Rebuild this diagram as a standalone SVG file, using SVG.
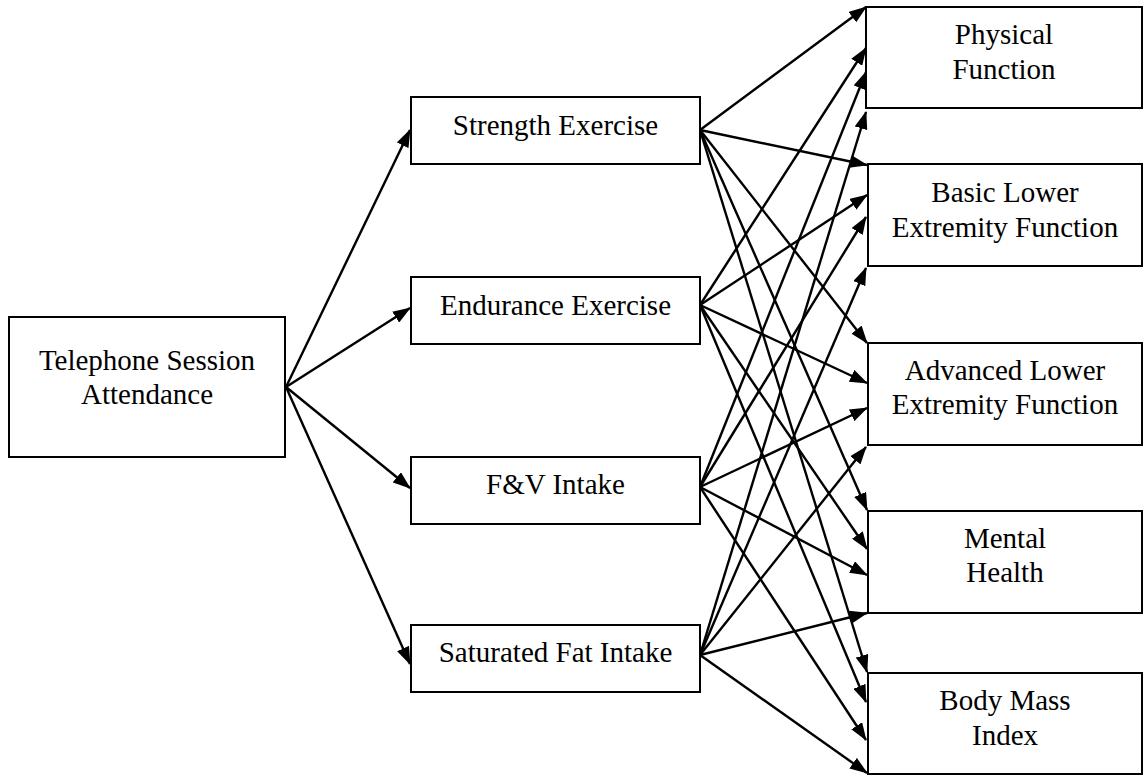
<svg xmlns="http://www.w3.org/2000/svg" width="1143" height="776" viewBox="0 0 1143 776">
  <style>
    .box { fill: #fff; stroke: #000; stroke-width: 2; }
    .lbl { font-family: "Liberation Serif", "Times New Roman", serif; font-size: 29px; fill: #000; text-anchor: middle; }
    .edge { stroke: #000; stroke-width: 2.4; fill: none; marker-end: url(#head); }
  </style>
  <defs>
    <marker id="head" markerUnits="userSpaceOnUse" markerWidth="18" markerHeight="13" refX="17" refY="6.5" orient="auto">
      <path d="M0,0 L18,6.5 L0,13 z" fill="#000"/>
    </marker>
  </defs>

  <!-- connectors -->
  <g id="connectors">
    <!-- attendance to behaviours -->
    <line class="edge" x1="286" y1="387" x2="410" y2="130"/>
    <line class="edge" x1="286" y1="387" x2="410" y2="308"/>
    <line class="edge" x1="286" y1="387" x2="410" y2="488"/>
    <line class="edge" x1="286" y1="387" x2="410" y2="664"/>
    <!-- strength exercise -->
    <line class="edge" x1="700" y1="130" x2="866" y2="7"/>
    <line class="edge" x1="700" y1="130" x2="867" y2="165"/>
    <line class="edge" x1="700" y1="130" x2="867" y2="343"/>
    <line class="edge" x1="700" y1="130" x2="867" y2="510"/>
    <line class="edge" x1="700" y1="130" x2="867" y2="672"/>
    <!-- endurance exercise -->
    <line class="edge" x1="700" y1="305" x2="866" y2="48"/>
    <line class="edge" x1="700" y1="305" x2="867" y2="195"/>
    <line class="edge" x1="700" y1="305" x2="867" y2="383"/>
    <line class="edge" x1="700" y1="305" x2="867" y2="549"/>
    <line class="edge" x1="700" y1="305" x2="866" y2="702"/>
    <!-- fruit and vegetable intake -->
    <line class="edge" x1="700" y1="487" x2="866" y2="72"/>
    <line class="edge" x1="700" y1="487" x2="866" y2="217"/>
    <line class="edge" x1="700" y1="487" x2="867" y2="408"/>
    <line class="edge" x1="700" y1="487" x2="867" y2="575"/>
    <line class="edge" x1="700" y1="487" x2="866" y2="740"/>
    <!-- saturated fat intake -->
    <line class="edge" x1="700" y1="655" x2="866" y2="112"/>
    <line class="edge" x1="700" y1="655" x2="866" y2="268"/>
    <line class="edge" x1="700" y1="655" x2="866" y2="447"/>
    <line class="edge" x1="700" y1="655" x2="867" y2="613"/>
    <line class="edge" x1="700" y1="655" x2="867" y2="773"/>
  </g>

  <g id="attendance">
    <rect class="box" x="9" y="317" width="276" height="140"/>
    <text class="lbl" x="147" y="370">Telephone Session</text>
    <text class="lbl" x="147" y="404">Attendance</text>
  </g>

  <g id="strength">
    <rect class="box" x="411" y="97" width="289" height="67"/>
    <text class="lbl" x="555.5" y="135">Strength Exercise</text>
  </g>
  <g id="endurance">
    <rect class="box" x="411" y="277" width="289" height="67"/>
    <text class="lbl" x="555.5" y="315">Endurance Exercise</text>
  </g>
  <g id="fv-intake">
    <rect class="box" x="411" y="457" width="289" height="67"/>
    <text class="lbl" x="555.5" y="494">F&amp;V Intake</text>
  </g>
  <g id="satfat-intake">
    <rect class="box" x="411" y="625" width="289" height="67"/>
    <text class="lbl" x="555.5" y="662">Saturated Fat Intake</text>
  </g>

  <g id="physical-function">
    <rect class="box" x="866" y="7" width="276" height="101"/>
    <text class="lbl" x="1004" y="44">Physical</text>
    <text class="lbl" x="1004" y="79">Function</text>
  </g>
  <g id="basic-lef">
    <rect class="box" x="868" y="164" width="274" height="102"/>
    <text class="lbl" x="1005" y="202">Basic Lower</text>
    <text class="lbl" x="1005" y="237">Extremity Function</text>
  </g>
  <g id="advanced-lef">
    <rect class="box" x="868" y="343" width="274" height="102"/>
    <text class="lbl" x="1005" y="380">Advanced Lower</text>
    <text class="lbl" x="1005" y="414">Extremity Function</text>
  </g>
  <g id="mental-health">
    <rect class="box" x="868" y="511" width="274" height="102"/>
    <text class="lbl" x="1005" y="548">Mental</text>
    <text class="lbl" x="1005" y="582">Health</text>
  </g>
  <g id="bmi">
    <rect class="box" x="868" y="673" width="274" height="101"/>
    <text class="lbl" x="1005" y="710">Body Mass</text>
    <text class="lbl" x="1005" y="745">Index</text>
  </g>
</svg>
